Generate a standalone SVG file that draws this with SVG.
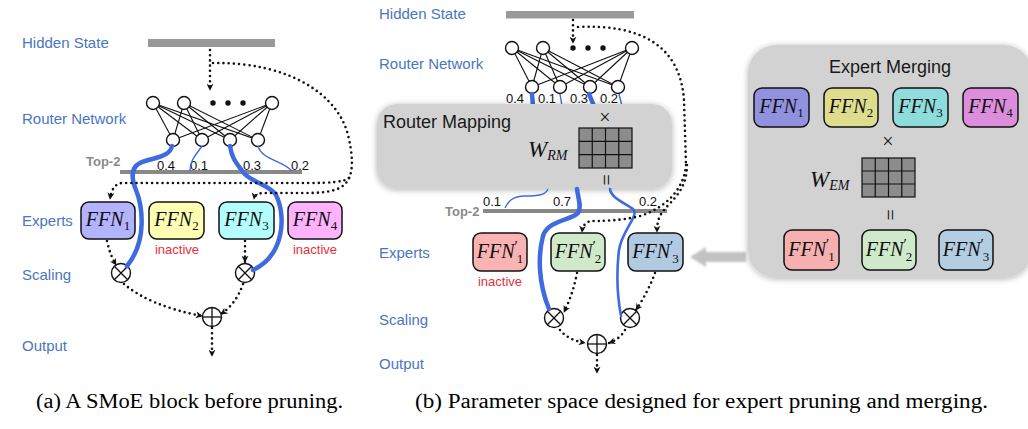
<svg xmlns="http://www.w3.org/2000/svg" width="1028" height="429" viewBox="0 0 1028 429">
<style>
.lbl{font-family:"Liberation Sans",Arial,sans-serif;font-size:15px;fill:#4a76c2}
.num{font-family:"Liberation Sans",Arial,sans-serif;font-size:13px;fill:#111}
.top2{font-family:"Liberation Sans",Arial,sans-serif;font-size:13px;font-weight:bold;fill:#8a8a8a}
.inact{font-family:"Liberation Sans",Arial,sans-serif;font-size:13px;fill:#e8303a;text-anchor:middle}
.ffn{font-family:"Liberation Serif","Times New Roman",serif;font-size:20px;font-style:italic;fill:#111;text-anchor:middle}
.sub{font-style:normal;font-size:13px}
.pr{font-style:normal;font-size:15px}
.box{stroke:#111;stroke-width:1.5}
.dot{fill:none;stroke:#111;stroke-width:2.6;stroke-linecap:round;stroke-dasharray:0 5.2}
.edge{stroke:#111;stroke-width:1.1}
.neuron{fill:#fff;stroke:#111;stroke-width:1.4}
.bd{fill:#111}
.op{fill:#fff;stroke:#111;stroke-width:1.4}
.opl{stroke:#111;stroke-width:1.3}
.thick{fill:none;stroke:#3f6ae0;stroke-width:4.5;stroke-linecap:round}
.mid{fill:none;stroke:#3f6ae0;stroke-width:2.6;stroke-linecap:round}
.thin{fill:none;stroke:#3f6ae0;stroke-width:1.4}
.bar{fill:#999}
.t2bar{fill:#888}
.panel{fill:#d2d2d2}
.title{font-family:"Liberation Sans",Arial,sans-serif;font-size:18px;fill:#1a1a1a}
.cap{font-family:"Liberation Serif","Times New Roman",serif;font-size:20px;fill:#000}
.grid{fill:#8c8c8c;stroke:#111;stroke-width:1.2}
.gl{stroke:#111;stroke-width:1.2}
.math{font-family:"Liberation Serif","Times New Roman",serif;fill:#111}
</style>
<defs>
<marker id="ah" viewBox="0 0 10 10" refX="9" refY="5" markerWidth="7" markerHeight="7" markerUnits="userSpaceOnUse" orient="auto"><path d="M0,0 L10,5 L0,10 L3,5 z" fill="#111"/></marker>
<filter id="sh" x="-10%" y="-10%" width="120%" height="125%"><feGaussianBlur in="SourceAlpha" stdDeviation="3"/><feOffset dy="1"/><feComponentTransfer><feFuncA type="linear" slope="0.3"/></feComponentTransfer><feMerge><feMergeNode/><feMergeNode in="SourceGraphic"/></feMerge></filter>
<filter id="bl" x="-10%" y="-30%" width="120%" height="160%"><feGaussianBlur stdDeviation="0.8"/></filter>
</defs>

<!-- ===== Panel (a) ===== -->
<g id="labels-a">
<text class="lbl" x="22" y="48">Hidden State</text>
<text class="lbl" x="22" y="124">Router Network</text>
<text class="lbl" x="22" y="226">Experts</text>
<text class="lbl" x="22" y="280">Scaling</text>
<text class="lbl" x="22" y="351">Output</text>
</g>
<g id="hidden-a"><rect class="bar" x="148" y="39" width="127" height="8"/></g>

<g id="router-a">
<g class="edge">
<line x1="153" y1="103" x2="173" y2="140"/><line x1="153" y1="103" x2="202" y2="140"/><line x1="153" y1="103" x2="230" y2="140"/><line x1="153" y1="103" x2="258" y2="140"/>
<line x1="184" y1="103" x2="173" y2="140"/><line x1="184" y1="103" x2="202" y2="140"/><line x1="184" y1="103" x2="230" y2="140"/><line x1="184" y1="103" x2="258" y2="140"/>
<line x1="272" y1="103" x2="173" y2="140"/><line x1="272" y1="103" x2="202" y2="140"/><line x1="272" y1="103" x2="230" y2="140"/><line x1="272" y1="103" x2="258" y2="140"/>
</g>
<circle class="neuron" cx="153" cy="103" r="6.5"/><circle class="neuron" cx="184" cy="103" r="6.5"/><circle class="neuron" cx="272" cy="103" r="6.5"/>
<circle class="bd" cx="213" cy="103" r="2.7"/><circle class="bd" cx="228" cy="103" r="2.7"/><circle class="bd" cx="243" cy="103" r="2.7"/>
<circle class="neuron" cx="173" cy="140" r="6.5"/><circle class="neuron" cx="202" cy="140" r="6.5"/><circle class="neuron" cx="230" cy="140" r="6.5"/><circle class="neuron" cx="258" cy="140" r="6.5"/>
</g>

<g id="top2-a">
<rect class="t2bar" x="120" y="170" width="182" height="4"/>
<text class="top2" x="86" y="166">Top-2</text>
<text class="num" x="157" y="169.5">0.4</text>
<text class="num" x="190" y="169.5">0.1</text>
<text class="num" x="243" y="169.5">0.3</text>
<text class="num" x="291" y="169.5">0.2</text>
</g>

<g id="experts-a">
<g id="ffn1-a"><rect class="box" x="81" y="202" width="54" height="37" rx="8" fill="#b3b3ff"/><text class="ffn" x="108" y="226">FFN<tspan class="sub" dy="4">1</tspan></text></g>
<g id="ffn2-a"><rect class="box" x="149" y="202" width="55" height="37" rx="8" fill="#ffffb3"/><text class="ffn" x="176.5" y="226">FFN<tspan class="sub" dy="4">2</tspan></text><text class="inact" x="177" y="254">inactive</text></g>
<g id="ffn3-a"><rect class="box" x="219" y="202" width="55" height="37" rx="8" fill="#b3ffff"/><text class="ffn" x="246.5" y="226">FFN<tspan class="sub" dy="4">3</tspan></text></g>
<g id="ffn4-a"><rect class="box" x="288" y="202" width="54" height="37" rx="8" fill="#ffb3ff"/><text class="ffn" x="315" y="226">FFN<tspan class="sub" dy="4">4</tspan></text><text class="inact" x="315" y="254">inactive</text></g>
</g>

<g id="ops-a">
<g id="mul1-a"><circle class="op" cx="121" cy="273" r="9.5"/><line class="opl" x1="114.3" y1="266.3" x2="127.7" y2="279.7"/><line class="opl" x1="127.7" y1="266.3" x2="114.3" y2="279.7"/></g>
<g id="mul2-a"><circle class="op" cx="245" cy="273" r="9.5"/><line class="opl" x1="238.3" y1="266.3" x2="251.7" y2="279.7"/><line class="opl" x1="251.7" y1="266.3" x2="238.3" y2="279.7"/></g>
<g id="sum-a"><circle class="op" cx="212" cy="317" r="9.5"/><line class="opl" x1="202.5" y1="317" x2="221.5" y2="317"/><line class="opl" x1="212" y1="307.5" x2="212" y2="326.5"/></g>
</g>

<g id="connectors-a">
<path class="thick" d="M172,146 C170,158 150,158 140,163 C130,168 132,180 136,190 C142,205 148,240 127,266"/>
<path class="thin" d="M202,146 C196,155 190,160 190,171"/>
<path class="thick" d="M230,146 C232,160 238,165 243,172 C250,182 270,185 276,195 C286,215 285,255 253,270"/>
<path class="thin" d="M258,146 C262,160 282,160 292,171"/>
<path class="dot" d="M210,50 L210,90" marker-end="url(#ah)"/>
<path class="dot" d="M213,63 C290,62 338,95 348,135 C353,155 353,170 349,178"/>
<path class="dot" d="M349,178 C344,182 330,183 310,183 L122,183 Q112,184 110,199" marker-end="url(#ah)"/>
<path class="dot" d="M349,178 C344,190 330,193 305,193 L265,193 Q255,193 254,199" marker-end="url(#ah)"/>
<path class="dot" d="M107,241 Q110,255 116,265" marker-end="url(#ah)"/>
<path class="dot" d="M245,241 L245,262" marker-end="url(#ah)"/>
<path class="dot" d="M124,284 Q150,306 202,316" marker-end="url(#ah)"/>
<path class="dot" d="M243,284 Q236,304 221,314" marker-end="url(#ah)"/>
<path class="dot" d="M212,328 L212,356" marker-end="url(#ah)"/>
</g>

<!-- ===== Panel (b) ===== -->
<g id="labels-b">
<text class="lbl" x="379" y="19">Hidden State</text>
<text class="lbl" x="379" y="69">Router Network</text>
<text class="lbl" x="379" y="258">Experts</text>
<text class="lbl" x="379" y="325">Scaling</text>
<text class="lbl" x="379" y="369">Output</text>
</g>
<g id="hidden-b"><rect class="bar" x="506" y="11" width="128" height="7.5"/></g>

<g id="router-b">
<g class="edge">
<line x1="512" y1="48" x2="532" y2="87"/><line x1="512" y1="48" x2="560" y2="87"/><line x1="512" y1="48" x2="590" y2="87"/><line x1="512" y1="48" x2="618" y2="87"/>
<line x1="543" y1="48" x2="532" y2="87"/><line x1="543" y1="48" x2="560" y2="87"/><line x1="543" y1="48" x2="590" y2="87"/><line x1="543" y1="48" x2="618" y2="87"/>
<line x1="632" y1="48" x2="532" y2="87"/><line x1="632" y1="48" x2="560" y2="87"/><line x1="632" y1="48" x2="590" y2="87"/><line x1="632" y1="48" x2="618" y2="87"/>
</g>
<circle class="neuron" cx="512" cy="48" r="6.5"/><circle class="neuron" cx="543" cy="48" r="6.5"/><circle class="neuron" cx="632" cy="48" r="6.5"/>
<circle class="bd" cx="573" cy="48" r="2.7"/><circle class="bd" cx="588" cy="48" r="2.7"/><circle class="bd" cx="603" cy="48" r="2.7"/>
<circle class="neuron" cx="532" cy="87" r="6.5"/><circle class="neuron" cx="560" cy="87" r="6.5"/><circle class="neuron" cx="590" cy="87" r="6.5"/><circle class="neuron" cx="618" cy="87" r="6.5"/>
<text class="num" x="506" y="103">0.4</text>
<text class="num" x="538" y="103">0.1</text>
<text class="num" x="570" y="103">0.3</text>
<text class="num" x="600" y="103">0.2</text>
<path class="thick" d="M532,94 L533,106"/>
<path class="thin" d="M560,94 L562,106"/>
<path class="thick" d="M589,94 L594,106"/>
<path class="thin" d="M619,94 L622,106"/>
</g>

<g id="router-mapping">
<rect class="panel" x="377" y="104" width="295" height="85" rx="20" filter="url(#sh)"/>
<text class="title" x="383" y="128">Router Mapping</text>
<text class="math" x="605" y="124" font-size="20" text-anchor="middle">×</text>
<text class="math" x="528" y="157" font-size="23" font-style="italic">W<tspan font-size="14" dy="3">RM</tspan></text>
<rect class="grid" x="579" y="128" width="53" height="40"/>
<g class="gl"><line x1="592.25" y1="128" x2="592.25" y2="168"/><line x1="605.5" y1="128" x2="605.5" y2="168"/><line x1="618.75" y1="128" x2="618.75" y2="168"/><line x1="579" y1="141.3" x2="632" y2="141.3"/><line x1="579" y1="154.7" x2="632" y2="154.7"/></g>
<text class="math" x="606" y="180" font-size="20" text-anchor="middle" dominant-baseline="central" transform="rotate(90 606 180)">=</text>
</g>

<g id="top2-b">
<rect class="t2bar" x="483" y="209" width="184" height="4"/>
<text class="top2" x="445" y="215.5">Top-2</text>
<text class="num" x="483" y="206">0.1</text>
<text class="num" x="553" y="206">0.7</text>
<text class="num" x="639" y="206">0.2</text>
</g>

<g id="experts-b">
<g id="ffn1p-b"><rect class="box" x="473" y="233" width="54" height="38" rx="8" fill="#f9b3b3"/><text class="ffn" x="500" y="258">FFN<tspan class="pr" dy="-7">′</tspan><tspan class="sub" dx="-1" dy="12">1</tspan></text><text class="inact" x="500" y="286">inactive</text></g>
<g id="ffn2p-b"><rect class="box" x="551" y="233" width="54" height="38" rx="8" fill="#cfe9c9"/><text class="ffn" x="578" y="258">FFN<tspan class="pr" dy="-7">′</tspan><tspan class="sub" dx="-1" dy="12">2</tspan></text></g>
<g id="ffn3p-b"><rect class="box" x="628" y="233" width="55" height="38" rx="8" fill="#b1cae2"/><text class="ffn" x="655.5" y="258">FFN<tspan class="pr" dy="-7">′</tspan><tspan class="sub" dx="-1" dy="12">3</tspan></text></g>
</g>

<g id="ops-b">
<g id="mul1-b"><circle class="op" cx="554" cy="318" r="9.5"/><line class="opl" x1="547.3" y1="311.3" x2="560.7" y2="324.7"/><line class="opl" x1="560.7" y1="311.3" x2="547.3" y2="324.7"/></g>
<g id="mul2-b"><circle class="op" cx="630" cy="318" r="9.5"/><line class="opl" x1="623.3" y1="311.3" x2="636.7" y2="324.7"/><line class="opl" x1="636.7" y1="311.3" x2="623.3" y2="324.7"/></g>
<g id="sum-b"><circle class="op" cx="597" cy="344" r="9.5"/><line class="opl" x1="587.5" y1="344" x2="606.5" y2="344"/><line class="opl" x1="597" y1="334.5" x2="597" y2="353.5"/></g>
</g>

<g id="connectors-b">
<path class="thin" d="M548,189 C546,195 538,196 525,196 C512,196 508,202 505,208"/>
<path class="thick" d="M577,189 C578,198 582,207 578,213 C572,220 548,220 543,236 C538,255 538,282 549,309"/>
<path class="mid" d="M610,189 C611,198 625,203 633,209 C640,215 622,230 619,250 C616,275 618,300 621,316"/>
<path class="dot" d="M573,20 L573,43" marker-end="url(#ah)"/>
<path class="dot" d="M578,27 C640,24 680,45 684,100 L686,165"/>
<path class="dot" d="M686,165 C684,190 665,208 640,216 C620,221 600,221 592,221 Q583,222 582,232" marker-end="url(#ah)"/>
<path class="dot" d="M687,165 C687,190 672,200 664,210 C659,216 657,222 657,232" marker-end="url(#ah)"/>
<path class="dot" d="M577,273 Q573,294 564,312" marker-end="url(#ah)"/>
<path class="dot" d="M655,273 Q648,292 636,310" marker-end="url(#ah)"/>
<path class="dot" d="M560,330 Q568,340 585,343" marker-end="url(#ah)"/>
<path class="dot" d="M625,330 Q620,339 609,343" marker-end="url(#ah)"/>
<path class="dot" d="M597,355 L597,373" marker-end="url(#ah)"/>
</g>

<g id="merge-arrow"><polygon points="690,257 706,247 706,252 746,252 746,262 706,262 706,267" fill="#c2c2c2" filter="url(#bl)"/></g>

<g id="expert-merging">
<rect class="panel" x="748" y="45" width="284" height="233" rx="28" filter="url(#sh)"/>
<text class="title" x="890" y="73" text-anchor="middle">Expert Merging</text>
<g id="ffn1-m"><rect class="box" x="754" y="88" width="55" height="39" rx="8" fill="#9191e0"/><text class="ffn" x="781.5" y="113">FFN<tspan class="sub" dy="4">1</tspan></text></g>
<g id="ffn2-m"><rect class="box" x="824" y="88" width="54" height="39" rx="8" fill="#dedd8e"/><text class="ffn" x="851" y="113">FFN<tspan class="sub" dy="4">2</tspan></text></g>
<g id="ffn3-m"><rect class="box" x="893" y="88" width="55" height="39" rx="8" fill="#8edcdc"/><text class="ffn" x="920.5" y="113">FFN<tspan class="sub" dy="4">3</tspan></text></g>
<g id="ffn4-m"><rect class="box" x="963" y="88" width="55" height="39" rx="8" fill="#dc8edc"/><text class="ffn" x="990.5" y="113">FFN<tspan class="sub" dy="4">4</tspan></text></g>
<text class="math" x="888" y="148" font-size="20" text-anchor="middle">×</text>
<text class="math" x="810" y="187" font-size="23" font-style="italic">W<tspan font-size="14" dy="3">EM</tspan></text>
<rect class="grid" x="862" y="158" width="53" height="39"/>
<g class="gl"><line x1="875.25" y1="158" x2="875.25" y2="197"/><line x1="888.5" y1="158" x2="888.5" y2="197"/><line x1="901.75" y1="158" x2="901.75" y2="197"/><line x1="862" y1="171" x2="915" y2="171"/><line x1="862" y1="184" x2="915" y2="184"/></g>
<text class="math" x="890" y="215" font-size="20" text-anchor="middle" dominant-baseline="central" transform="rotate(90 890 215)">=</text>
<g id="ffn1p-m"><rect class="box" x="784" y="230" width="55" height="40" rx="8" fill="#f6b0b0"/><text class="ffn" x="811.5" y="256">FFN<tspan class="pr" dy="-7">′</tspan><tspan class="sub" dx="-1" dy="12">1</tspan></text></g>
<g id="ffn2p-m"><rect class="box" x="862" y="230" width="54" height="40" rx="8" fill="#cfeacb"/><text class="ffn" x="889" y="256">FFN<tspan class="pr" dy="-7">′</tspan><tspan class="sub" dx="-1" dy="12">2</tspan></text></g>
<g id="ffn3p-m"><rect class="box" x="939" y="230" width="54" height="40" rx="8" fill="#b3cde3"/><text class="ffn" x="966" y="256">FFN<tspan class="pr" dy="-7">′</tspan><tspan class="sub" dx="-1" dy="12">3</tspan></text></g>
</g>

<g id="captions">
<text class="cap" x="36" y="408" textLength="307" lengthAdjust="spacingAndGlyphs">(a) A SMoE block before pruning.</text>
<text class="cap" x="415" y="408" textLength="573" lengthAdjust="spacingAndGlyphs">(b) Parameter space designed for expert pruning and merging.</text>
</g>
</svg>
